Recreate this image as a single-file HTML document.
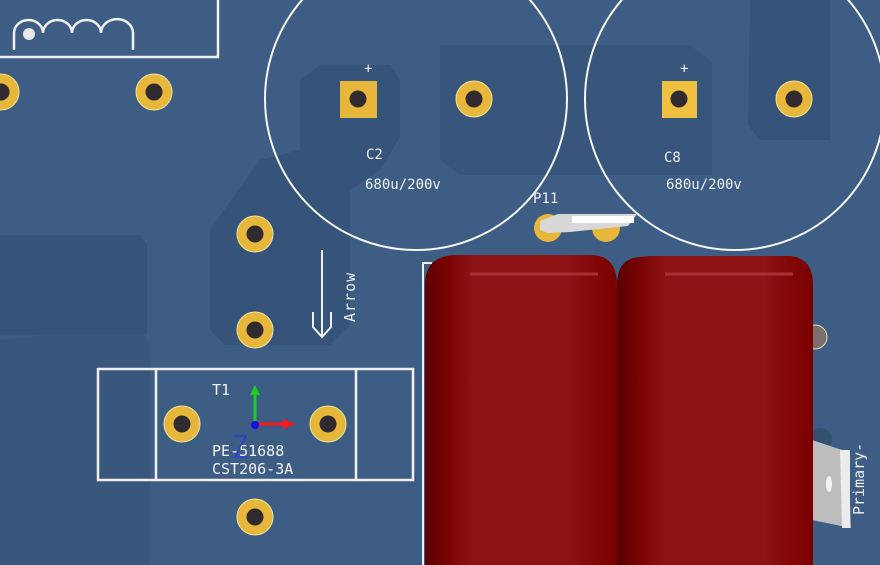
<!DOCTYPE html>
<html><head><style>
html,body{margin:0;padding:0;width:880px;height:565px;overflow:hidden;background:#3b5a80}
svg{display:block}
text{font-family:"DejaVu Sans Mono","Liberation Mono",monospace;fill:#f2f2f2}
</style></head><body>
<svg width="880" height="565" viewBox="0 0 880 565" xmlns="http://www.w3.org/2000/svg">
<defs>
<linearGradient id="cap" x1="0" x2="1" y1="0" y2="0">
<stop offset="0" stop-color="#5a0000"/><stop offset="0.12" stop-color="#7a0404"/><stop offset="0.25" stop-color="#8c1214"/><stop offset="0.75" stop-color="#8c1214"/><stop offset="0.9" stop-color="#820606"/><stop offset="1" stop-color="#7a0000"/>
</linearGradient>
<g id="pad"><circle r="18" fill="#e6b73a" stroke="#f3e3a0" stroke-width="1"/><circle r="8.5" fill="#302b2e"/></g>
</defs>
<rect width="880" height="565" fill="#3d5d84"/>
<g fill="#36537a">
<path d="M0 235 H140 L147 245 V335 H0Z"/>
<path d="M0 340 L40 335 H145 L150 345 V565 H0Z" fill="#39577d"/>
<path d="M320 65 H390 L400 80 V137 L380 170 L350 190 L350 325 L330 345 H225 L210 330 V230 L260 160 L300 150 V80Z"/>
<path d="M440 45 H690 L712 62 V175 H460 L440 160Z" fill="#38567c"/>
<path d="M750 0 H830 V140 H760 L748 125Z"/>
</g>
<g fill="none" stroke="#f0f0f0" stroke-width="2.5">
<path d="M0 57 H218 V0"/>
<path d="M14 50 V33 A14.5 13 0 0 1 43 33 A14.5 13 0 0 1 72 33 A14.5 13 0 0 1 101 33 A15 13 0 0 1 133 33 V50"/>
</g>
<circle cx="29" cy="34" r="6" fill="#e8e8e8"/>
<g fill="none" stroke="#f6f6f6" stroke-width="2">
<ellipse cx="416" cy="99" rx="151" ry="151"/>
<ellipse cx="735" cy="99" rx="150" ry="151"/>
</g>
<rect x="340" y="81" width="37" height="37" fill="#e6b73a"/><circle cx="358" cy="99" r="8.5" fill="#302b2e"/>
<rect x="662" y="81" width="35" height="37" fill="#f0c040"/><circle cx="679" cy="99" r="8.5" fill="#302b2e"/>
<use href="#pad" x="474" y="99"/>
<use href="#pad" x="794" y="99"/>
<use href="#pad" x="1" y="92"/>
<use href="#pad" x="154" y="92"/>
<use href="#pad" x="255" y="234"/>
<use href="#pad" x="255" y="330"/>
<use href="#pad" x="182" y="424"/>
<use href="#pad" x="328" y="424"/>
<use href="#pad" x="255" y="517"/>
<g font-size="14">
<text x="364" y="73">+</text><text x="680" y="73">+</text>
<text x="366" y="159">C2</text><text x="664" y="162">C8</text>
<text x="365" y="189">680u/200v</text><text x="666" y="189">680u/200v</text>
<text x="533" y="203">P11</text>
</g>
<circle cx="548" cy="228" r="14" fill="#e6b73a"/><circle cx="606" cy="228" r="14" fill="#e6b73a"/>
<path d="M540 221 L558 214 H637 L628 226 L570 232 L548 233 L540 230Z" fill="#d8d8d8"/>
<rect x="572" y="216" width="62" height="7" fill="#fff"/>
<g fill="none" stroke="#f0f0f0" stroke-width="2">
<path d="M322 250 V336"/>
<path d="M313 312 V327 L322 337 L331 327 V312"/>
</g>
<text x="0" y="0" font-size="15" letter-spacing="1" transform="translate(355,322) rotate(-90)">Arrow</text>
<g fill="none" stroke="#f0f0f0" stroke-width="2.5">
<rect x="98" y="369" width="315" height="111"/>
<path d="M156 369 V480 M356 369 V480"/>
</g>
<text x="212" y="395" font-size="15">T1</text>
<text x="212" y="456" font-size="15">PE-51688</text>
<text x="212" y="474" font-size="15">CST206-3A</text>
<path d="M233 436 H246 L235 457 H247" stroke="#2030ff" stroke-width="1" fill="none"/>
<path d="M255 424 V392" stroke="#18d018" stroke-width="3"/><path d="M250 395 L255 385 L260 395Z" fill="#18d018"/>
<path d="M255 424 H286" stroke="#ff1818" stroke-width="3"/><path d="M283 419 L295 424 L283 429Z" fill="#ff1818"/>
<circle cx="255" cy="425" r="4" fill="#1010e0"/>
<circle cx="815" cy="337" r="12" fill="#7a6e6e" stroke="#e8e0b0"/>
<circle cx="820" cy="440" r="12" fill="#34506f"/>
<path d="M812 440 L848 452 L851 528 L812 520Z" fill="#bdbdbd"/>
<path d="M840 450 H850 V528 H842Z" fill="#ececec"/>
<ellipse cx="829" cy="484" rx="3" ry="8" fill="#f4f4f4"/>
<text x="0" y="0" font-size="15" transform="translate(864,515) rotate(-90)">Primary-</text>
<path d="M423 565 V263 H432" fill="none" stroke="#f0f0f0" stroke-width="2"/>
<path d="M425 565 V285 Q425 256 455 255 H592 Q617 256 617 285 V565Z" fill="url(#cap)"/>
<path d="M617 565 V285 Q617 258 640 257 L650 256 H790 Q813 258 813 285 V565Z" fill="url(#cap)"/>
<path d="M470 274 H598 M665 274 H793" stroke="#a83034" stroke-width="3"/>
</svg>
</body></html>
